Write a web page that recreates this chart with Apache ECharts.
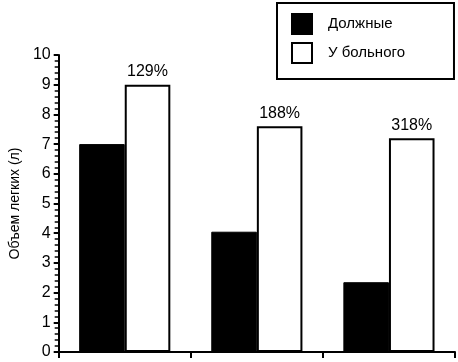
<!DOCTYPE html>
<html>
<head>
<meta charset="utf-8">
<script src="https://cdn.jsdelivr.net/npm/echarts@6/dist/echarts.min.js"></script>
<style>html,body{margin:0;padding:0;background:#fff}#c{width:458px;height:362px}</style>
</head>
<body>
<div id="c"></div>
<script>
const categories = ['A', 'B', 'C'];
const seriesNames = ['Должные', 'У больного'];
const dueValues = [7.0, 4.05, 2.35];
const patientValues = [9.0, 7.6, 7.2];
const percentLabels = ['129%', '188%', '318%'];
const yTicks = [0, 1, 2, 3, 4, 5, 6, 7, 8, 9, 10];

const font = '"Liberation Sans", Arial, sans-serif';
const chart = echarts.init(document.getElementById('c'), null, {renderer: 'canvas'});
chart.setOption({
  animation: false,
  backgroundColor: '#fff',
  grid: {left: 56, right: 3, top: 55, bottom: 10},
  legend: {
    orient: 'vertical', left: 277, top: 3,
    data: seriesNames,
    itemWidth: 20, itemHeight: 20, itemGap: 7,
    padding: [10, 49, 15, 14],
    borderColor: '#000', borderWidth: 2,
    textStyle: {fontFamily: font, fontSize: 15, color: '#000', padding: [0, 0, 0, 11]},
    icon: 'rect'
  },
  xAxis: {
    type: 'category', data: categories,
    axisLine: {lineStyle: {color: '#000', width: 2}},
    axisTick: {show: true, length: 6, lineStyle: {color: '#000', width: 2}},
    axisLabel: {show: false}
  },
  yAxis: {
    type: 'value', min: 0, max: 10, interval: 1,
    name: 'Объем легких (л)', nameLocation: 'middle', nameGap: 35,
    nameTextStyle: {fontFamily: font, fontSize: 14, color: '#000'},
    axisLine: {show: true, lineStyle: {color: '#000', width: 2}},
    axisTick: {show: true, length: 5, lineStyle: {color: '#000', width: 2}},
    minorTick: {show: true, splitNumber: 5, length: 4, lineStyle: {color: '#000', width: 1.5}},
    splitLine: {show: false},
    axisLabel: {fontFamily: font, fontSize: 16, color: '#000', margin: 8,
      formatter: v => yTicks.includes(v) ? String(v) : ''}
  },
  series: [
    {
      name: seriesNames[0], type: 'bar', data: dueValues,
      barGap: '0%', barCategoryGap: '31%',
      itemStyle: {color: '#000', borderColor: '#000', borderWidth: 1}
    },
    {
      name: seriesNames[1], type: 'bar', data: patientValues,
      barGap: '0%', barCategoryGap: '31%',
      itemStyle: {color: '#fff', borderColor: '#000', borderWidth: 2},
      label: {
        show: true, position: 'top', distance: 5,
        fontFamily: font, fontSize: 16, color: '#000',
        formatter: p => percentLabels[p.dataIndex]
      }
    }
  ]
});
</script>
</body>
</html>
